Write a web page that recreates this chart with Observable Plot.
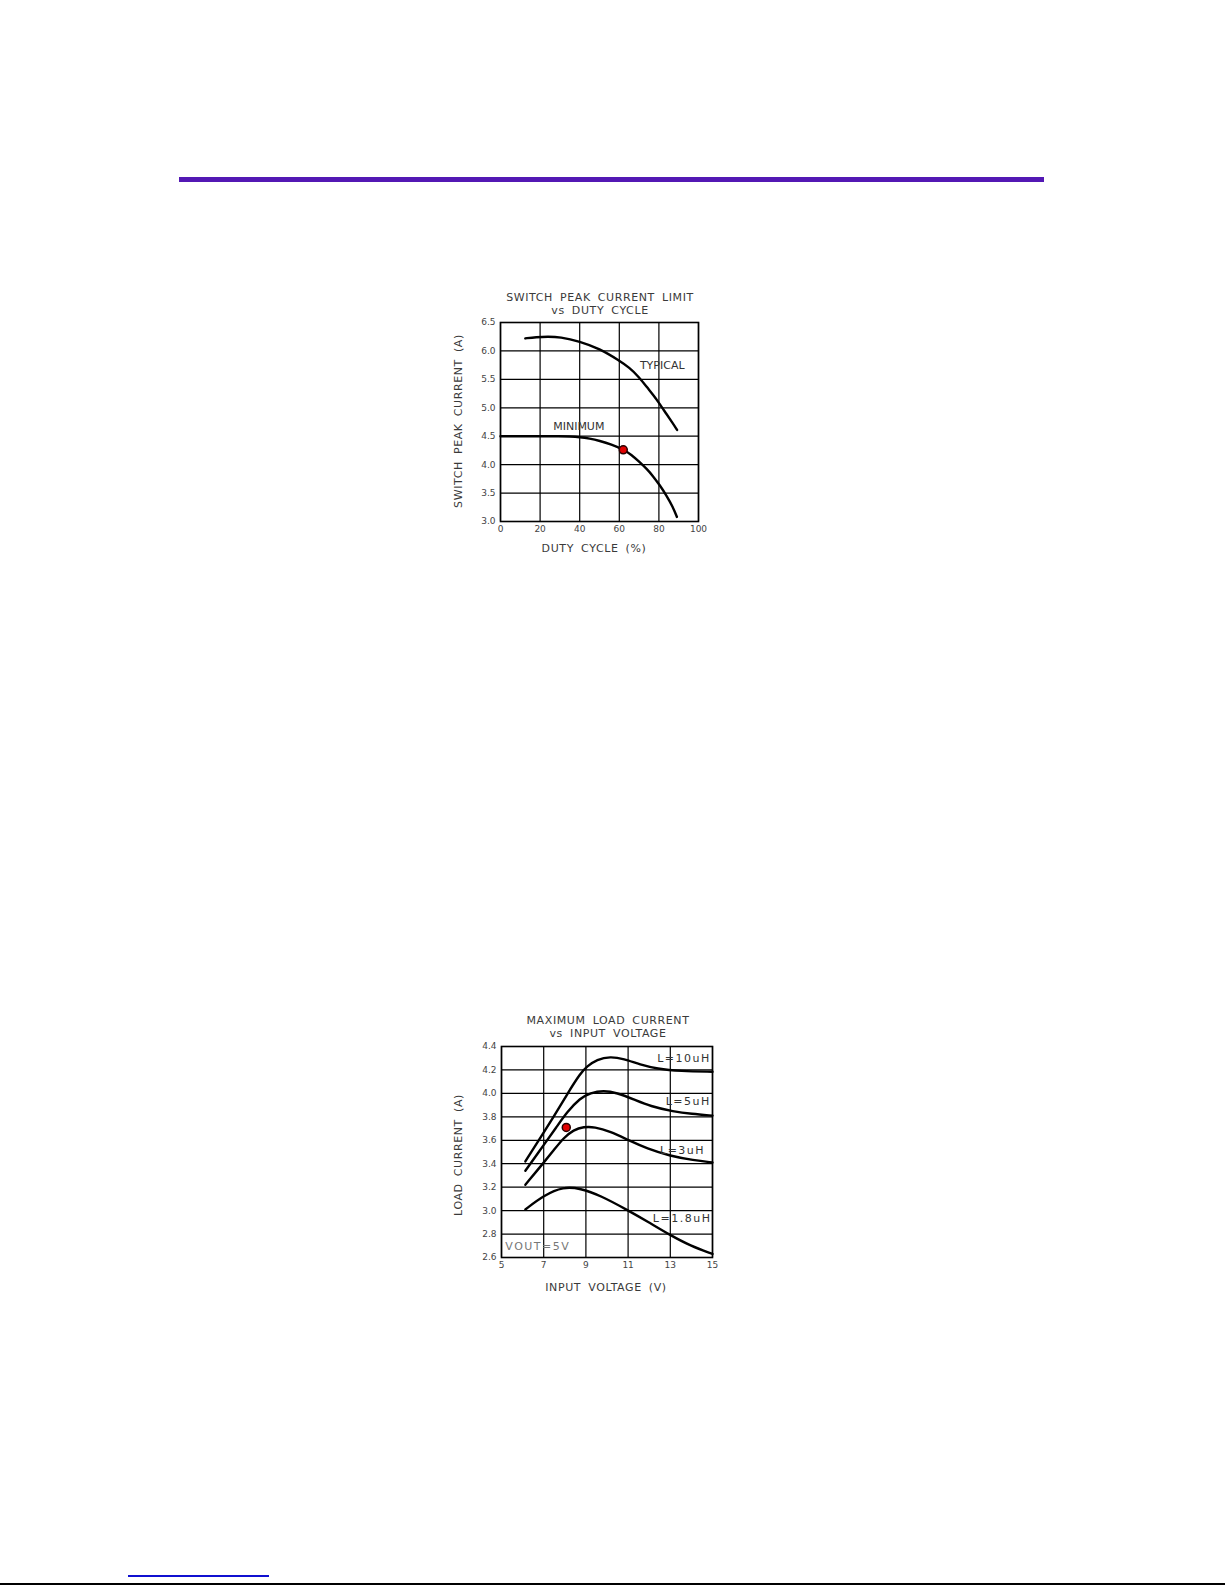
<!DOCTYPE html>
<html><head><meta charset="utf-8">
<script src="https://cdn.jsdelivr.net/npm/d3@7"></script>
<script src="https://cdn.jsdelivr.net/npm/@observablehq/plot@0.6"></script>
<style>
body{margin:0;background:#fff;}
#page{position:relative;width:1225px;height:1585px;overflow:hidden;font-family:"DejaVu Sans",sans-serif;background:#fff;}
.t{position:absolute;transform:translate(-50%,-50%);white-space:nowrap;color:#3a3a3a;font-size:11px;letter-spacing:0.6px;word-spacing:3px;line-height:1;}
.rot{transform:translate(-50%,-50%) rotate(-90deg);}
.chart{position:absolute;}
.bar{position:absolute;}
</style></head>
<body><div id="page">
<div class="bar" style="left:179px;top:177px;width:865px;height:5px;background:#5318b4;"></div>
<div class="bar" style="left:128px;top:1575px;width:141px;height:1.5px;background:#1010d0;"></div>
<div class="bar" style="left:0px;top:1583px;width:1225px;height:2px;background:#000;"></div>

<div class="t" style="left:600px;top:297px;">SWITCH PEAK CURRENT LIMIT</div>
<div class="t" style="left:600px;top:310px;">vs DUTY CYCLE</div>
<div class="t rot" style="left:458px;top:421px;">SWITCH PEAK CURRENT (A)</div>
<div class="t" style="left:594px;top:548px;">DUTY CYCLE (%)</div>
<div id="c1" class="chart" style="left:440px;top:300px;"></div>

<div class="t" style="left:608px;top:1020px;">MAXIMUM LOAD CURRENT</div>
<div class="t" style="left:608px;top:1033px;">vs INPUT VOLTAGE</div>
<div class="t rot" style="left:458px;top:1155px;">LOAD CURRENT (A)</div>
<div class="t" style="left:606px;top:1287px;">INPUT VOLTAGE (V)</div>
<div id="c2" class="chart" style="left:440px;top:1030px;"></div>
</div>
<script>
// ---- Chart 1 data: switch peak current limit vs duty cycle ----
const dutyTicks = [0, 20, 40, 60, 80, 100];
const currentTicks1 = [3.0, 3.5, 4.0, 4.5, 5.0, 5.5, 6.0, 6.5];
const typicalCurve = [[12.5,6.22],[18,6.245],[24,6.25],[30,6.245],[40,6.17],[50,6.04],[60,5.83],[65,5.71],[70,5.54],[74,5.36],[77,5.23],[80,5.09],[84,4.88],[87,4.73],[89.2,4.61]];
const minimumCurve = [[0,4.5],[10,4.5],[20,4.5],[30,4.5],[35,4.495],[40,4.485],[45,4.46],[50,4.42],[56,4.355],[62,4.265],[66,4.18],[70.4,4.04],[74,3.92],[77,3.80],[80.4,3.64],[83.8,3.46],[87,3.26],[89.1,3.08]];
const marker1 = [[62, 4.26]];
const curveLabels1 = [{text:"TYPICAL", x:70.4, y:5.75},{text:"MINIMUM", x:26.6, y:4.68}];

// ---- Chart 2 data: maximum load current vs input voltage ----
const voltTicks = [5, 7, 9, 11, 13, 15];
const currentTicks2 = [2.6, 2.8, 3.0, 3.2, 3.4, 3.6, 3.8, 4.0, 4.2, 4.4];
const l10 = [[6.13,3.42],[6.8,3.61],[7.47,3.80],[8.1,3.99],[8.73,4.17],[9.05,4.23],[9.52,4.29],[10.16,4.315],[10.79,4.295],[11.58,4.245],[12.37,4.21],[13.47,4.19],[15,4.185]];
const l5 = [[6.13,3.34],[7,3.56],[7.6,3.71],[8.1,3.84],[8.73,3.96],[9.21,4.005],[9.84,4.025],[10.47,4.005],[11.26,3.95],[12.05,3.89],[13.16,3.845],[14,3.825],[15,3.81]];
const l3 = [[6.13,3.22],[7,3.41],[7.5,3.52],[7.94,3.62],[8.42,3.69],[8.9,3.715],[9.4,3.715],[10.16,3.675],[11.02,3.60],[11.89,3.53],[13,3.465],[14.1,3.43],[15,3.41]];
const l18 = [[6.13,3.01],[7,3.13],[7.94,3.205],[8.73,3.19],[9.68,3.13],[11.02,3.00],[11.89,2.91],[13,2.79],[13.95,2.70],[15,2.63]];
const marker2 = [[8.07, 3.71]];
const curveLabels2 = [{text:"L=10uH", x:14.92, y:4.30},{text:"L=5uH", x:14.92, y:3.93},{text:"L=3uH", x:14.65, y:3.51},{text:"L=1.8uH", x:14.95, y:2.93}];
const noteLabels2 = [{text:"VOUT=5V", x:5.18, y:2.69}];

const baseStyle = {fontFamily:"DejaVu Sans, sans-serif", fontSize:"9px", background:"transparent", overflow:"visible"};
const lineOpts = {x:d=>d[0], y:d=>d[1], stroke:"#000", strokeWidth:2.4, curve:"basis"};
const dotOpts = {x:d=>d[0], y:d=>d[1], r:4, fill:"#e10000", stroke:"#2a0000", strokeWidth:1.5};

const p1 = Plot.plot({
  width:280, height:240,
  marginLeft:60, marginRight:22, marginTop:22, marginBottom:19,
  style: baseStyle,
  x:{domain:[0,100]},
  y:{domain:[3,6.5]},
  marks:[
    Plot.gridX(dutyTicks, {stroke:"#000", strokeOpacity:1, strokeWidth:1.2}),
    Plot.gridY(currentTicks1, {stroke:"#000", strokeOpacity:1, strokeWidth:1.2}),
    Plot.frame({stroke:"#000", strokeWidth:1.6}),
    Plot.axisX(dutyTicks, {tickSize:0, tickPadding:4, fill:"#444", label:null}),
    Plot.axisY(currentTicks1, {tickSize:0, tickPadding:5, fill:"#444", label:null, tickFormat:d3.format(".1f")}),
    Plot.line(typicalCurve, lineOpts),
    Plot.line(minimumCurve, lineOpts),
    Plot.dot(marker1, dotOpts),
    Plot.text(curveLabels1, {x:"x", y:"y", text:"text", textAnchor:"start", fontSize:11, fill:"#333", fontWeight:"normal"})
  ]
});
document.getElementById("c1").appendChild(p1);

const p2 = Plot.plot({
  width:290, height:245,
  marginLeft:61, marginRight:18, marginTop:16, marginBottom:18,
  style: baseStyle,
  x:{domain:[5,15]},
  y:{domain:[2.6,4.4]},
  marks:[
    Plot.gridX(voltTicks, {stroke:"#000", strokeOpacity:1, strokeWidth:1.2}),
    Plot.gridY(currentTicks2, {stroke:"#000", strokeOpacity:1, strokeWidth:1.2}),
    Plot.frame({stroke:"#000", strokeWidth:1.6}),
    Plot.axisX(voltTicks, {tickSize:0, tickPadding:4, fill:"#444", label:null}),
    Plot.axisY(currentTicks2, {tickSize:0, tickPadding:5, fill:"#444", label:null, tickFormat:d3.format(".1f")}),
    Plot.line(l10, lineOpts),
    Plot.line(l5, lineOpts),
    Plot.line(l3, lineOpts),
    Plot.line(l18, lineOpts),
    Plot.dot(marker2, dotOpts),
    Plot.text(curveLabels2, {x:"x", y:"y", text:"text", textAnchor:"end", fontSize:11, fill:"#333"}),
    Plot.text(noteLabels2, {x:"x", y:"y", text:"text", textAnchor:"start", fontSize:11, fill:"#777"})
  ]
});
p2.querySelectorAll("g[aria-label='text'] text").forEach(t => t.setAttribute("letter-spacing", "1.5"));
document.getElementById("c2").appendChild(p2);
</script>
</body></html>
